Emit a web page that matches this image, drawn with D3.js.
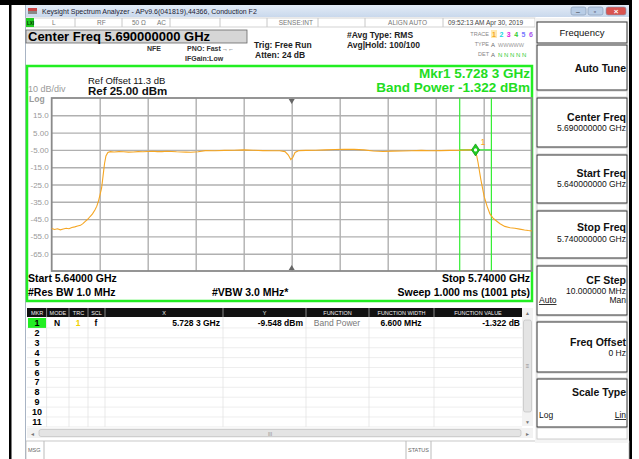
<!DOCTYPE html>
<html><head><meta charset="utf-8">
<script src="https://cdn.jsdelivr.net/npm/d3@7"></script>
<style>
html,body{margin:0;padding:0;background:#fff;overflow:hidden;}
svg{display:block;font-family:"Liberation Sans",Arial,sans-serif;}
</style></head><body>
<svg id="c" width="639" height="459"></svg>
<script>
// ---------- data ----------
const freqMHz = [5640.0,5640.6,5641.2,5641.8,5642.4,5643.0,5643.6,5644.2,5644.8,5645.4,5646.0,5646.5,5647.0,5647.5,5648.0,5648.5,5649.0,5649.4,5649.8,5650.1,5650.4,5650.7,5651.0,5651.3,5651.7,5652.2,
  5653,5654,5655,5656,5657,5658,5659,5660,5661,5662,5663,5664,5665,5666,5667,5668,5669,5670.5,5672,5674,5676,5678,5680,5682,5684,5686,5687.5,5688.6,5689.3,5689.8,5690.2,5690.7,5691.5,
  5693,5695,5697,5699,5701,5703,5705,5707,5709,5711,5713,5715,5717,5719,5721,5723,5725,5727,5728.3,5728.8,5729.4,5730.1,5730.7,5731.3,5731.9,5732.4,5733.4,5734.4,5735.5,5736.5,5737.5,5738.5,5739.3,5740.0];
const levelDbm = [-50.4,-51.0,-50.6,-51.2,-50.7,-50.3,-50.6,-49.9,-49.5,-49.0,-48.6,-47.6,-46.3,-45.1,-43.5,-42.0,-39.8,-37.5,-34.0,-30.5,-27.0,-20.0,-13.0,-8.5,-6.5,-6.0,
  -6.2,-6.0,-6.1,-6.3,-6.2,-6.0,-6.1,-5.9,-5.8,-6.0,-6.0,-5.8,-5.9,-6.1,-6.2,-6.3,-6.4,-6.1,-5.4,-5.5,-5.3,-5.2,-5.0,-5.2,-5.4,-5.5,-5.5,-6.0,-8.0,-10.6,-9.5,-6.5,-5.4,
  -5.3,-5.2,-5.0,-4.8,-4.6,-4.7,-5.0,-5.6,-5.9,-5.7,-5.6,-5.5,-5.3,-5.5,-5.4,-5.3,-5.2,-5.0,-5.0,-12.0,-22.0,-32.0,-37.5,-42.0,-44.3,-45.5,-47.7,-49.2,-50.0,-50.3,-50.8,-51.3,-51.6,-51.8];
const yTickValues = [15,5,-5,-15,-25,-35,-45,-55,-65];
const yTickLabels = ["15.0","5.00","-5.00","-15.0","-25.0","-35.0","-45.0","-55.0","-65.0"];
const xGridMHz = [5650,5660,5670,5680,5690,5700,5710,5720,5730];
const spanMHz = [5640,5740];
const levelRange = [-75,25];
const centerMHz = 5690;
const markerMHz = 5728.3;
const bandWidthMHz = 6.6;
const tableHeaders = ["MKR","MODE","TRC","SCL","X","Y","FUNCTION","FUNCTION WIDTH","FUNCTION VALUE"];
const markerRow = ["1","N","1","f","5.728 3 GHz","-9.548 dBm","Band Power","6.600 MHz","-1.322 dB"];
const rowNumbers = ["1","2","3","4","5","6","7","8","9","10","11"];

// ---------- drawing ----------
const svg = d3.select("#c");
const F = "Liberation Sans, Arial, sans-serif";
function txt(g,x,y,s,o){o=o||{};return g.append("text").attr("x",x).attr("y",y).text(s)
  .attr("font-size",o.size||9).attr("font-weight",o.bold?"bold":"normal").attr("fill",o.fill||"#000")
  .attr("text-anchor",o.anchor||"start");}

// outer frame
svg.append("rect").attr("x",0).attr("y",0).attr("width",632).attr("height",5).attr("fill","#000");
svg.append("rect").attr("x",9).attr("y",0).attr("width",2.5).attr("height",459).attr("fill","#000");
svg.append("rect").attr("x",629).attr("y",0).attr("width",3).attr("height",459).attr("fill","#000");
svg.append("line").attr("x1",25.5).attr("x2",25.5).attr("y1",5).attr("y2",459).attr("stroke","#a8b4c4");

// title bar
const tg = d3.create("svg:linearGradient").attr("id","tb").attr("x1",0).attr("x2",0).attr("y1",0).attr("y2",1);
svg.append("defs").node().appendChild(tg.node());
tg.append("stop").attr("offset","0").attr("stop-color","#e3ecf7");
tg.append("stop").attr("offset","1").attr("stop-color","#c9d8ec");
svg.append("rect").attr("x",26).attr("y",5).attr("width",603).attr("height",12).attr("fill","url(#tb)");
svg.append("rect").attr("x",28).attr("y",8).attr("width",9).attr("height",6).attr("fill","#c44");
svg.append("rect").attr("x",28).attr("y",11).attr("width",9).attr("height",3).attr("fill","#888");
txt(svg,42,14,"Keysight Spectrum Analyzer - APv9.6(041819),44366, Conduction F2",{size:7,fill:"#223"});
[[571,"#b9cde6"],[588,"#b9cde6"],[606,"#d9534f"]].forEach((b,i)=>{
  svg.append("rect").attr("x",b[0]).attr("y",7).attr("width",i==2?20:15).attr("height",8).attr("rx",2)
    .attr("fill",b[1]).attr("stroke","#8296b0").attr("stroke-width",0.6);
});
txt(svg,578,14,"–",{size:7,fill:"#334",anchor:"middle"});
txt(svg,595,14,"▫",{size:7,fill:"#334",anchor:"middle"});
txt(svg,616,14,"×",{size:8,fill:"#fff",anchor:"middle",bold:true});

// status row
svg.append("rect").attr("x",26).attr("y",18).attr("width",509).attr("height",9).attr("fill","#fff").attr("stroke","#c8c8c8").attr("stroke-width",0.8);
svg.append("rect").attr("x",26).attr("y",18).attr("width",8).attr("height",9).attr("fill","#2c2");
txt(svg,27,25,"LXI",{size:4.5,fill:"#030",bold:true});
[75,122,170,220,267,318,365,443].forEach(x=>svg.append("line").attr("x1",x).attr("x2",x).attr("y1",18).attr("y2",27).attr("stroke","#c8c8c8"));
txt(svg,52,25,"L",{size:6.5,fill:"#777"});
txt(svg,97,25,"RF",{size:6.5,fill:"#777"});
txt(svg,132,25,"50 Ω",{size:6.5,fill:"#777"});
txt(svg,157,25,"AC",{size:6.5,fill:"#777"});
txt(svg,313,25,"SENSE:INT",{size:6.5,fill:"#777",anchor:"end"});
txt(svg,427,25,"ALIGN AUTO",{size:6.5,fill:"#777",anchor:"end"});
txt(svg,448,25,"09:52:13 AM Apr 30, 2019",{size:6.5,fill:"#444"});

// header area
svg.append("rect").attr("x",26).attr("y",30).attr("width",221).attr("height",13).attr("fill","#d6d6d6").attr("stroke","#666").attr("stroke-width",0.8);
txt(svg,28,41,"Center Freq 5.690000000 GHz",{size:13,bold:true});
txt(svg,147,51,"NFE",{size:7,bold:true,fill:"#333"});
txt(svg,187,51,"PNO: Fast",{size:7,bold:true,fill:"#333"});
txt(svg,222,51,"→←",{size:6,fill:"#333"});
txt(svg,185,61,"IFGain:Low",{size:7,bold:true,fill:"#333"});
txt(svg,254,48,"Trig: Free Run",{size:8.5,bold:true,fill:"#222"});
txt(svg,255,58,"Atten: 24 dB",{size:8.5,bold:true,fill:"#222"});
txt(svg,347,38,"#Avg Type: RMS",{size:8.5,bold:true,fill:"#222"});
txt(svg,347,48,"Avg|Hold: 100/100",{size:8.5,bold:true,fill:"#222"});
txt(svg,489,36,"TRACE",{size:5.5,fill:"#888",anchor:"end"});
txt(svg,489,46,"TYPE",{size:5.5,fill:"#888",anchor:"end"});
txt(svg,489,56,"DET",{size:5.5,fill:"#888",anchor:"end"});
svg.append("rect").attr("x",491).attr("y",30).attr("width",6).attr("height",8).attr("fill","#ffe9b0");
const trColors=["#f5a623","#19d6e0","#e020e0","#33cc33","#7777ff","#aa55ee"];
trColors.forEach((c,i)=>txt(svg,492+i*7.4,37,String(i+1),{size:7,fill:c,bold:true}));
txt(svg,491,47,"A",{size:6,fill:"#666"});
txt(svg,498,47,"WWWWW",{size:5.5,fill:"#999"});
txt(svg,491,57,"A",{size:6,fill:"#666"});
txt(svg,498,57,"N N N N N",{size:6,fill:"#33cc33"});

// graph panel border
svg.append("rect").attr("x",27).attr("y",66).attr("width",505).attr("height",235).attr("fill","#fff").attr("stroke","#22ee22").attr("stroke-width",2.5);
svg.append("line").attr("x1",537).attr("x2",537).attr("y1",60).attr("y2",440).attr("stroke","#555").attr("stroke-width",2);

// scales
const x = d3.scaleLinear().domain(spanMHz).range([51.7,531.7]);
const y = d3.scaleLinear().domain(levelRange).range([271,98]);

// texts in graph panel
txt(svg,28,92,"10 dB/div",{size:9,fill:"#9a9a9a"});
txt(svg,29,101.5,"Log",{size:8.5,fill:"#9a9a9a",bold:true});
txt(svg,88,84,"Ref Offset 11.3 dB",{size:9.5,fill:"#111"});
txt(svg,88,95,"Ref 25.00 dBm",{size:11.5,bold:true,fill:"#111"});
txt(svg,530,78,"Mkr1 5.728 3 GHz",{size:13.5,bold:true,fill:"#22dd22",anchor:"end"});
txt(svg,530,92,"Band Power -1.322 dBm",{size:13.5,bold:true,fill:"#22dd22",anchor:"end"});

// grid via axes
const gx = svg.append("g").attr("transform",`translate(0,${y(levelRange[0])})`)
  .call(d3.axisBottom(x).tickValues(xGridMHz).tickSize(-(y(levelRange[0])-y(levelRange[1]))).tickFormat(""));
gx.select(".domain").remove();
gx.selectAll(".tick line").attr("stroke","#b0b0b0").attr("stroke-width",1.4);
const gy = svg.append("g").attr("transform",`translate(${x(spanMHz[0])},0)`)
  .call(d3.axisLeft(y).tickValues(yTickValues).tickSize(-(x(spanMHz[1])-x(spanMHz[0]))).tickPadding(3)
  .tickFormat((d,i)=>yTickLabels[i]));
gy.select(".domain").remove();
gy.selectAll(".tick line").attr("stroke","#b0b0b0").attr("stroke-width",1.4);
gy.selectAll(".tick text").attr("fill","#9a9a9a").attr("font-size",8).attr("font-family",F);
svg.append("rect").attr("x",x(spanMHz[0])).attr("y",y(levelRange[1])).attr("width",x(spanMHz[1])-x(spanMHz[0]))
  .attr("height",y(levelRange[0])-y(levelRange[1])).attr("fill","none").attr("stroke","#8a8a8a").attr("stroke-width",1.8);

// center triangles
const cx = x(centerMHz);
svg.append("path").attr("d",`M${cx-3},${y(25)+1}L${cx+3},${y(25)+1}L${cx},${y(25)+6}Z`).attr("fill","#666");
svg.append("path").attr("d",`M${cx-3},${y(-75)-1}L${cx+3},${y(-75)-1}L${cx},${y(-75)-6}Z`).attr("fill","#666");

// band power lines
const pts = freqMHz.map((f,i)=>[f,levelDbm[i]]);
const interp = f=>{for(let i=1;i<pts.length;i++){if(pts[i][0]>=f){const a=pts[i-1],b=pts[i];return a[1]+(b[1]-a[1])*(f-a[0])/(b[0]-a[0]);}}return pts[pts.length-1][1];};
const mLevel = interp(markerMHz);
const bl = x(markerMHz-bandWidthMHz/2), br = x(markerMHz+bandWidthMHz/2);
[bl,br].forEach(v=>svg.append("line").attr("x1",v).attr("x2",v).attr("y1",y(25)).attr("y2",y(-75)).attr("stroke","#33ee33").attr("stroke-width",1.2));
svg.append("line").attr("x1",bl).attr("x2",br).attr("y1",y(mLevel)).attr("y2",y(mLevel)).attr("stroke","#33ee33").attr("stroke-width",1.2);

// trace
svg.append("path").datum(pts).attr("fill","none").attr("stroke","#f5a623").attr("stroke-width",1.1)
  .attr("d",d3.line().x(d=>x(d[0])).y(d=>y(d[1])));

// marker
const mx = x(markerMHz), my = y(mLevel);
svg.append("path").attr("d",`M${mx},${my-6}L${mx+4},${my}L${mx},${my+6}L${mx-4},${my}Z`).attr("fill","#22cc22").attr("stroke","#119911").attr("stroke-width",0.8);
svg.append("circle").attr("cx",mx).attr("cy",my).attr("r",1.6).attr("fill","#fff");
txt(svg,mx+5,my-5,"1",{size:9,fill:"#f5a623"});

// bottom annotations
txt(svg,28,282,"Start 5.64000 GHz",{size:10.5,bold:true});
txt(svg,530,282,"Stop 5.74000 GHz",{size:10.5,bold:true,anchor:"end"});
txt(svg,28,296,"#Res BW 1.0 MHz",{size:10.5,bold:true});
txt(svg,212,296,"#VBW 3.0 MHz*",{size:10.5,bold:true});
txt(svg,530,296,"Sweep  1.000 ms (1001 pts)",{size:10.5,bold:true,anchor:"end"});

// table
const colB = [27.6,46.6,69,88,105,223,306,369,434,522];
svg.append("rect").attr("x",27).attr("y",308).attr("width",495).attr("height",9).attr("fill","#111");
for(let i=0;i<tableHeaders.length;i++){
  if(i>0) svg.append("line").attr("x1",colB[i]).attr("x2",colB[i]).attr("y1",308).attr("y2",317).attr("stroke","#888");
  txt(svg,(colB[i]+colB[i+1])/2,315,tableHeaders[i],{size:5.5,fill:"#eee",anchor:"middle"});
}
const rowY0 = 318, rowH = 9.9;
rowNumbers.forEach((r,i)=>{
  const yy = rowY0 + i*rowH;
  svg.append("line").attr("x1",27).attr("x2",522).attr("y1",yy+rowH).attr("y2",yy+rowH).attr("stroke","#e6e6e6").attr("stroke-width",0.7);
});
for(let i=1;i<colB.length-1;i++) svg.append("line").attr("x1",colB[i]).attr("x2",colB[i]).attr("y1",317).attr("y2",rowY0+11*rowH).attr("stroke","#e0e0e0").attr("stroke-width",0.7);
svg.append("rect").attr("x",28).attr("y",rowY0).attr("width",18).attr("height",rowH).attr("fill","#22ee22");
rowNumbers.forEach((r,i)=>txt(svg,37,rowY0+i*rowH+8,r,{size:9,bold:true,anchor:"middle"}));
const ry = rowY0+8;
txt(svg,57,ry,markerRow[1],{size:8.5,bold:true,anchor:"middle"});
txt(svg,78,ry,markerRow[2],{size:8.5,bold:true,fill:"#f0d000",anchor:"middle"});
txt(svg,96,ry,markerRow[3],{size:8.5,bold:true,anchor:"middle"});
txt(svg,220,ry,markerRow[4],{size:8.5,bold:true,anchor:"end"});
txt(svg,303,ry,markerRow[5],{size:8.5,bold:true,anchor:"end"});
txt(svg,337,ry,markerRow[6],{size:8.5,fill:"#777",anchor:"middle"});
txt(svg,401,ry,markerRow[7],{size:8.5,bold:true,anchor:"middle"});
txt(svg,520,ry,markerRow[8],{size:8.5,bold:true,anchor:"end"});
// vertical scrollbar
svg.append("rect").attr("x",522).attr("y",308).attr("width",11).attr("height",118).attr("fill","#f2f2f2");
txt(svg,527.5,315,"▲",{size:5,fill:"#777",anchor:"middle"});
svg.append("rect").attr("x",523.5).attr("y",320).attr("width",8).attr("height",92).attr("rx",2).attr("fill","#e4e4e4").attr("stroke","#bbb").attr("stroke-width",0.6);
txt(svg,527.5,368,"≡",{size:6,fill:"#888",anchor:"middle"});
txt(svg,527.5,424,"▼",{size:5,fill:"#777",anchor:"middle"});
// horizontal scrollbar
svg.append("rect").attr("x",27).attr("y",428).attr("width",506).attr("height",10).attr("fill","#f2f2f2");
txt(svg,31,436,"◂",{size:6,fill:"#777"});
svg.append("rect").attr("x",39).attr("y",429.5).attr("width",482).attr("height",7).attr("rx",2).attr("fill","#e4e4e4").attr("stroke","#bbb").attr("stroke-width",0.6);
txt(svg,270,436,"III",{size:5,fill:"#888",anchor:"middle"});
txt(svg,526,436,"▸",{size:6,fill:"#777"});
// msg bar
svg.append("rect").attr("x",26).attr("y",441).attr("width",603).attr("height",19).attr("fill","#fff").attr("stroke","#bbb").attr("stroke-width",0.8);
svg.append("line").attr("x1",44).attr("x2",44).attr("y1",441).attr("y2",459).attr("stroke","#bbb");
svg.append("line").attr("x1",406).attr("x2",406).attr("y1",441).attr("y2",459).attr("stroke","#bbb");
svg.append("line").attr("x1",431).attr("x2",431).attr("y1",441).attr("y2",459).attr("stroke","#bbb");
txt(svg,28,452,"MSG",{size:5.5,fill:"#666"});
txt(svg,408,452,"STATUS",{size:5.5,fill:"#666"});

// softkey panel
svg.append("rect").attr("x",535).attr("y",18).attr("width",94).attr("height",425).attr("fill","#f4f4f4");
const keys = [
  {y0:22,y1:43,lines:[{t:"Frequency",dy:14,size:9.5,anchor:"middle"}]},
  {y0:45,y1:90,lines:[{t:"Auto Tune",dy:27,size:10.5,bold:true}]},
  {y0:98,y1:147,lines:[{t:"Center Freq",dy:23,size:10.5,bold:true},{t:"5.690000000 GHz",dy:33,size:8.5}]},
  {y0:155,y1:203,lines:[{t:"Start Freq",dy:22,size:10.5,bold:true},{t:"5.640000000 GHz",dy:32,size:8.5}]},
  {y0:211,y1:258,lines:[{t:"Stop Freq",dy:20,size:10.5,bold:true},{t:"5.740000000 GHz",dy:31,size:8.5}]},
  {y0:266,y1:315,lines:[{t:"CF Step",dy:18,size:10.5,bold:true},{t:"10.000000 MHz",dy:28,size:8.5},{t:"Man",dy:37,size:8.5},{t:"Auto",dy:37,size:8.5,left:true,u:true}]},
  {y0:322,y1:372,lines:[{t:"Freq Offset",dy:24,size:10.5,bold:true},{t:"0 Hz",dy:34,size:8.5}]},
  {y0:379,y1:427,lines:[{t:"Scale Type",dy:17,size:10.5,bold:true},{t:"Lin",dy:39,size:8.5,u:true},{t:"Log",dy:39,size:8.5,left:true}]}
];
const gaps=[[90,98],[147,155],[203,211],[258,266],[315,322],[372,379],[427,440]];
gaps.forEach(g=>svg.append("rect").attr("x",537).attr("y",g[0]+1).attr("width",90).attr("height",g[1]-g[0]-2).attr("fill","#fff").attr("stroke","#c4c4c4").attr("stroke-width",0.8));
keys.forEach(k=>{
  svg.append("rect").attr("x",537).attr("y",k.y0).attr("width",90).attr("height",k.y1-k.y0).attr("fill","#fff").attr("stroke","#333").attr("stroke-width",1);
  k.lines.forEach(l=>{
    const xx = l.anchor=="middle"?582:(l.left?539:626);
    const t = txt(svg,xx,k.y0+l.dy,l.t,{size:l.size,bold:l.bold,anchor:l.anchor||(l.left?"start":"end"),fill:"#111"});
    if(l.u) t.attr("text-decoration","underline");
  });
});
</script>
</body></html>
